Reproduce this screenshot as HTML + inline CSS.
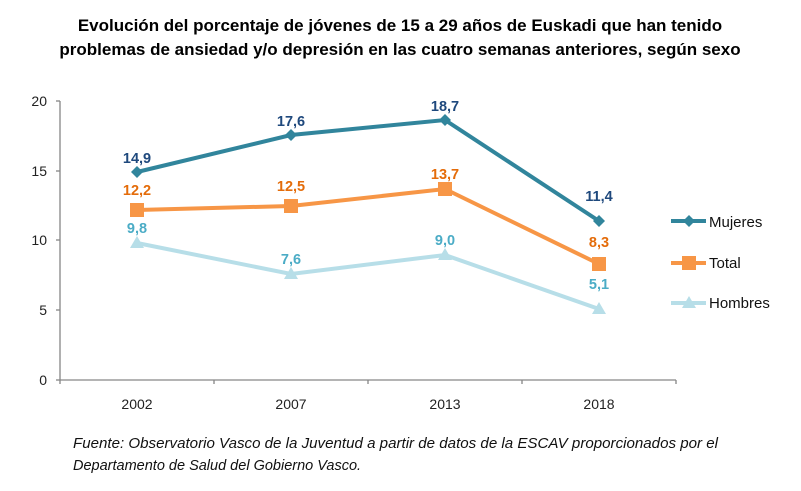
<!DOCTYPE html>
<html><head><meta charset="utf-8"><style>body{margin:0;background:#fff}svg{display:block}</style></head>
<body>
<svg width="801" height="491" viewBox="0 0 801 491" xmlns="http://www.w3.org/2000/svg" font-family="Liberation Sans, Arial, sans-serif">
<text x="400" y="31" text-anchor="middle" font-size="17" font-weight="bold" fill="#000">Evolución del porcentaje de jóvenes de 15 a 29 años de Euskadi que han tenido</text>
<text x="400" y="55" text-anchor="middle" font-size="17" font-weight="bold" fill="#000">problemas de ansiedad y/o depresión en las cuatro semanas anteriores, según sexo</text>
<g stroke="#868686" stroke-width="1.3" fill="none">
<line x1="60" y1="101" x2="60" y2="380"/>
<line x1="60" y1="380" x2="676" y2="380"/>
<line x1="56" y1="101" x2="60" y2="101"/><line x1="56" y1="171" x2="60" y2="171"/><line x1="56" y1="240" x2="60" y2="240"/><line x1="56" y1="310" x2="60" y2="310"/><line x1="56" y1="380" x2="60" y2="380"/>
<line x1="60" y1="380" x2="60" y2="384"/><line x1="214" y1="380" x2="214" y2="384"/><line x1="368" y1="380" x2="368" y2="384"/><line x1="522" y1="380" x2="522" y2="384"/><line x1="676" y1="380" x2="676" y2="384"/>
</g>
<g font-size="14" fill="#222" text-anchor="end">
<text x="47" y="106">20</text><text x="47" y="176">15</text><text x="47" y="245">10</text><text x="47" y="315">5</text><text x="47" y="385">0</text>
</g>
<g font-size="14" fill="#222" text-anchor="middle">
<text x="137" y="409">2002</text><text x="291" y="409">2007</text><text x="445" y="409">2013</text><text x="599" y="409">2018</text>
</g>
<polyline points="137,243 291,274 445,255 599,309" fill="none" stroke="#B7DEE8" stroke-width="4"/>
<g fill="#B7DEE8"><polygon points="137,236 130,248 144,248"/><polygon points="291,267 284,279 298,279"/><polygon points="445,248 438,260 452,260"/><polygon points="599,302 592,314 606,314"/></g>
<polyline points="137,210 291,206 445,189 599,264" fill="none" stroke="#F79646" stroke-width="4"/>
<g fill="#F79646"><rect x="130" y="203" width="14" height="14"/><rect x="284" y="199" width="14" height="14"/><rect x="438" y="182" width="14" height="14"/><rect x="592" y="257" width="14" height="14"/></g>
<polyline points="137,172 291,135 445,120 599,221" fill="none" stroke="#31859C" stroke-width="4"/>
<g fill="#31859C"><polygon points="137,166 143,172 137,178 131,172"/><polygon points="291,129 297,135 291,141 285,135"/><polygon points="445,114 451,120 445,126 439,120"/><polygon points="599,215 605,221 599,227 593,221"/></g>
<g font-size="14.5" font-weight="bold" text-anchor="middle">
<g fill="#1F497D"><text x="137" y="163">14,9</text><text x="291" y="126">17,6</text><text x="445" y="111">18,7</text><text x="599" y="201">11,4</text></g>
<g fill="#E46C0A"><text x="137" y="195">12,2</text><text x="291" y="191">12,5</text><text x="445" y="179">13,7</text><text x="599" y="247">8,3</text></g>
<g fill="#4BACC6"><text x="137" y="233">9,8</text><text x="291" y="264">7,6</text><text x="445" y="245">9,0</text><text x="599" y="289">5,1</text></g>
</g>
<line x1="671" y1="221" x2="706" y2="221" stroke="#31859C" stroke-width="4"/><polygon points="689,215 695,221 689,227 683,221" fill="#31859C"/>
<line x1="671" y1="263" x2="706" y2="263" stroke="#F79646" stroke-width="4"/><rect x="682" y="256" width="14" height="14" fill="#F79646"/>
<line x1="671" y1="303" x2="706" y2="303" stroke="#B7DEE8" stroke-width="4"/><polygon points="689,296 682,308 696,308" fill="#B7DEE8"/>
<g font-size="15" fill="#111"><text x="709" y="227">Mujeres</text><text x="709" y="268">Total</text><text x="709" y="308">Hombres</text></g>
<g font-size="14.5" font-style="italic" fill="#111">
<text x="73" y="448" textLength="645" lengthAdjust="spacingAndGlyphs">Fuente: Observatorio Vasco de la Juventud a partir de datos de la ESCAV proporcionados por el</text>
<text x="73" y="470">Departamento de Salud del Gobierno Vasco.</text>
</g>
</svg>
</body></html>
